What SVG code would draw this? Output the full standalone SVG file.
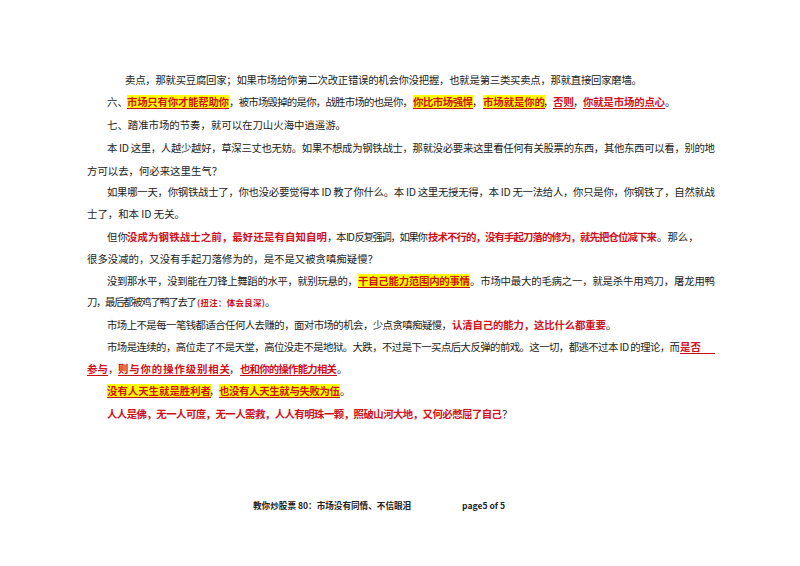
<svg xmlns="http://www.w3.org/2000/svg" width="800" height="566" viewBox="0 0 800 566">
<style>
text{font-family:"Noto Sans CJK SC","Liberation Sans",sans-serif;font-size:10.4px;fill:#222}
.r{fill:#d0101a;font-weight:bold}
.hl{fill:#ffff00}
.ul{stroke:#c0101a;stroke-width:1}
.ft{font-size:8.6px;font-weight:bold;fill:#222}
</style>
<rect width="800" height="566" fill="#fff"/>
<g id="highlights">
<rect class="hl" x="127" y="95" width="102" height="14"/>
<rect class="hl" x="413" y="95" width="60" height="14"/>
<rect class="hl" x="483" y="95" width="62" height="14"/>
<rect class="hl" x="358" y="274" width="112" height="14"/>
<rect class="hl" x="107" y="384" width="104" height="14"/>
<rect class="hl" x="219" y="384" width="121" height="14"/>
</g>
<g id="underlines">
<line class="ul" x1="127" y1="108.5" x2="229" y2="108.5"/>
<line class="ul" x1="413" y1="108.5" x2="473" y2="108.5"/>
<line class="ul" x1="483" y1="108.5" x2="545" y2="108.5"/>
<line class="ul" x1="553" y1="108.5" x2="575" y2="108.5"/>
<line class="ul" x1="583" y1="108.5" x2="665" y2="108.5"/>
<line class="ul" x1="358" y1="287.5" x2="470" y2="287.5"/>
<line class="ul" x1="680" y1="353.5" x2="715" y2="353.5"/>
<line class="ul" x1="87" y1="375.5" x2="108" y2="375.5"/>
<line class="ul" x1="118" y1="375.5" x2="230" y2="375.5"/>
<line class="ul" x1="240" y1="375.5" x2="337" y2="375.5"/>
<line class="ul" x1="107" y1="397.5" x2="211" y2="397.5"/>
<line class="ul" x1="219" y1="397.5" x2="340" y2="397.5"/>
</g>
<g id="body">
<text x="125" y="84" textLength="517" lengthAdjust="spacing">卖点，那就买豆腐回家；如果市场给你第二次改正错误的机会你没把握，也就是第三类买卖点，那就直接回家磨墙。</text>
<text y="106"><tspan x="107">六、</tspan><tspan x="127" class="r" textLength="102" lengthAdjust="spacing">市场只有你才能帮助你</tspan><tspan x="229" textLength="184" lengthAdjust="spacing">，被市场毁掉的是你，战胜市场的也是你，</tspan><tspan x="413" class="r" textLength="60" lengthAdjust="spacing">你比市场强悍</tspan><tspan x="472">，</tspan><tspan x="483" class="r" textLength="62" lengthAdjust="spacing">市场就是你的</tspan><tspan x="543">，</tspan><tspan x="553" class="r">否则</tspan><tspan x="573">，</tspan><tspan x="583" class="r" textLength="82" lengthAdjust="spacing">你就是市场的点心</tspan><tspan x="665">。</tspan></text>
<text x="107" y="129">七、踏准市场的节奏，就可以在刀山火海中逍遥游。</text>
<text x="107" y="152" textLength="608" lengthAdjust="spacing">本 ID 这里，人越少越好，草深三丈也无妨。如果不想成为钢铁战士，那就没必要来这里看任何有关股票的东西，其他东西可以看，别的地</text>
<text x="87" y="175">方可以去，何必来这里生气？</text>
<text x="107" y="196" textLength="608" lengthAdjust="spacing">如果哪一天，你钢铁战士了，你也没必要觉得本 ID 教了你什么。本 ID 这里无授无得，本 ID 无一法给人，你只是你，你钢铁了，自然就战</text>
<text x="87" y="218">士了，和本 ID 无关。</text>
<text y="241"><tspan x="107">但你</tspan><tspan x="127" class="r" textLength="200" lengthAdjust="spacing">没成为钢铁战士之前，最好还是有自知自明</tspan><tspan x="327" textLength="101" lengthAdjust="spacing">，本 ID 反复强调，如果你</tspan><tspan x="428" class="r" textLength="229" lengthAdjust="spacing">技术不行的，没有手起刀落的修为，就先把仓位减下来</tspan><tspan x="657">。那么，</tspan></text>
<text x="87" y="263">很多没减的，又没有手起刀落修为的，是不是又被贪嗔痴疑慢？</text>
<text y="285"><tspan x="107" textLength="251" lengthAdjust="spacing">没到那水平，没到能在刀锋上舞蹈的水平，就别玩悬的，</tspan><tspan x="358" class="r" textLength="112" lengthAdjust="spacing">干自己能力范围内的事情</tspan><tspan x="470" textLength="245" lengthAdjust="spacing">。市场中最大的毛病之一，就是杀牛用鸡刀，屠龙用鸭</tspan></text>
<text y="306"><tspan x="87" textLength="110" lengthAdjust="spacing">刀，最后都被鸡了鸭了去了</tspan><tspan x="197" class="r" style="font-size:8.4px" textLength="68" lengthAdjust="spacing">(扭注：体会良深)</tspan><tspan x="265">。</tspan></text>
<text y="329"><tspan x="107" textLength="345" lengthAdjust="spacing">市场上不是每一笔钱都适合任何人去赚的，面对市场的机会，少点贪嗔痴疑慢，</tspan><tspan x="452" class="r" textLength="154" lengthAdjust="spacing">认清自己的能力，这比什么都重要</tspan><tspan x="606">。</tspan></text>
<text y="351"><tspan x="107" textLength="573" lengthAdjust="spacing">市场是连续的，高位走了不是天堂，高位没走不是地狱。大跌，不过是下一买点后大反弹的前戏。这一切，都逃不过本 ID 的理论，而</tspan><tspan x="680" class="r">是否</tspan></text>
<text y="373"><tspan x="87" class="r">参与</tspan><tspan x="108">，</tspan><tspan x="118" class="r" textLength="112" lengthAdjust="spacing">则与你的操作级别相关</tspan><tspan x="229">，</tspan><tspan x="240" class="r" textLength="97" lengthAdjust="spacing">也和你的操作能力相关</tspan><tspan x="337">。</tspan></text>
<text y="395"><tspan x="107" class="r" textLength="104" lengthAdjust="spacing">没有人天生就是胜利者</tspan><tspan x="209">，</tspan><tspan x="219" class="r" textLength="121" lengthAdjust="spacing">也没有人天生就与失败为伍</tspan><tspan x="340">。</tspan></text>
<text y="418"><tspan x="107" class="r" textLength="395" lengthAdjust="spacing">人人是佛，无一人可度，无一人需救，人人有明珠一颗，照破山河大地，又何必憋屈了自己</tspan><tspan x="502">？</tspan></text>
</g>
<g id="footer">
<text class="ft" x="253" y="509">教你炒股票 80：市场没有同情、不信眼泪</text>
<text class="ft" x="462" y="509">page5 of 5</text>
</g>
</svg>
